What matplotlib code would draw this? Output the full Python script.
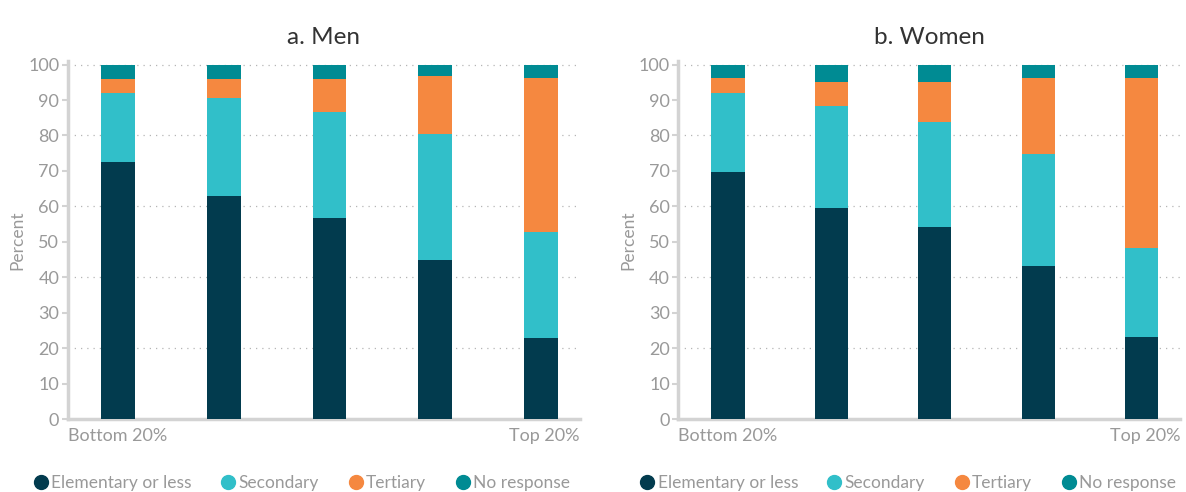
import numpy as np
import matplotlib.pyplot as plt
from matplotlib.lines import Line2D

plt.rcParams['font.family'] = ['Lato', 'DejaVu Sans']

quintiles = ['Bottom 20%', '', '', '', 'Top 20%']
categories = ['Elementary or less', 'Secondary', 'Tertiary', 'No response']
colors = ['#023b4e', '#31bfc9', '#f58840', '#008b93']

# Percent shares per quintile (bottom -> top)
men_elementary = [72.6, 62.8, 56.7, 45.0, 23.0]
men_secondary = [19.3, 27.7, 29.9, 35.3, 29.9]
men_tertiary = [3.9, 5.3, 9.2, 16.6, 43.2]
men_noresp = [4.2, 4.2, 4.2, 3.1, 3.9]

women_elementary = [69.7, 59.6, 54.3, 43.3, 23.1]
women_secondary = [22.3, 28.7, 29.5, 31.4, 25.1]
women_tertiary = [4.1, 6.7, 11.2, 21.4, 47.9]
women_noresp = [3.9, 5.0, 5.0, 3.9, 3.9]

grey = '#999999'
spine_col = '#d3d3d3'

fig = plt.figure(figsize=(11.86, 4.92), dpi=100)
ax1 = fig.add_axes([0.057, 0.148, 0.432, 0.728])
ax2 = fig.add_axes([0.572, 0.148, 0.423, 0.728])


def draw_panel(ax, title, series):
    x = np.arange(len(quintiles))
    bottom = np.zeros(len(quintiles))
    for vals, col in zip(series, colors):
        ax.bar(x, vals, width=0.32, bottom=bottom, color=col, zorder=3)
        bottom += np.array(vals)
    ax.set_xlim(-0.48, 4.37)
    ax.set_ylim(0, 101)
    ax.set_yticks(np.arange(0, 101, 10))
    ax.tick_params(axis='y', colors=spine_col, labelcolor=grey, labelsize=13,
                   length=4, width=1.5, pad=2)
    ax.set_xticks([])
    for s in ['top', 'right']:
        ax.spines[s].set_visible(False)
    ax.spines['left'].set_color(spine_col)
    ax.spines['left'].set_linewidth(2.5)
    ax.spines['bottom'].set_color(spine_col)
    ax.spines['bottom'].set_linewidth(2.5)
    for yv in [20, 40, 60, 80, 100]:
        ax.axhline(yv, color='#b5b5b5', linestyle=(0, (1, 4)), linewidth=0.9, zorder=1)
    ax.set_ylabel('Percent', color=grey, fontsize=12.5, labelpad=2)
    ax.set_title(title, fontsize=17.5, color='#333333', pad=12)
    ax.text(0, -0.025, quintiles[0], transform=ax.transAxes, ha='left', va='top',
            color=grey, fontsize=13)
    ax.text(1, -0.025, quintiles[-1], transform=ax.transAxes, ha='right', va='top',
            color=grey, fontsize=13)


draw_panel(ax1, 'a. Men', [men_elementary, men_secondary, men_tertiary, men_noresp])
draw_panel(ax2, 'b. Women', [women_elementary, women_secondary, women_tertiary, women_noresp])

handles = [Line2D([], [], marker='o', linestyle='none', markersize=10,
                  markerfacecolor=c, markeredgecolor=c) for c in colors]
for xc in [0.254, 0.765]:
    leg = fig.legend(handles, categories, loc='center', bbox_to_anchor=(xc, 0.018),
                     ncol=4, frameon=False, fontsize=12.5, handletextpad=0.1,
                     columnspacing=1.6, handlelength=1.0)
    for t in leg.get_texts():
        t.set_color(grey)

fig.savefig('out.png', dpi=100)
